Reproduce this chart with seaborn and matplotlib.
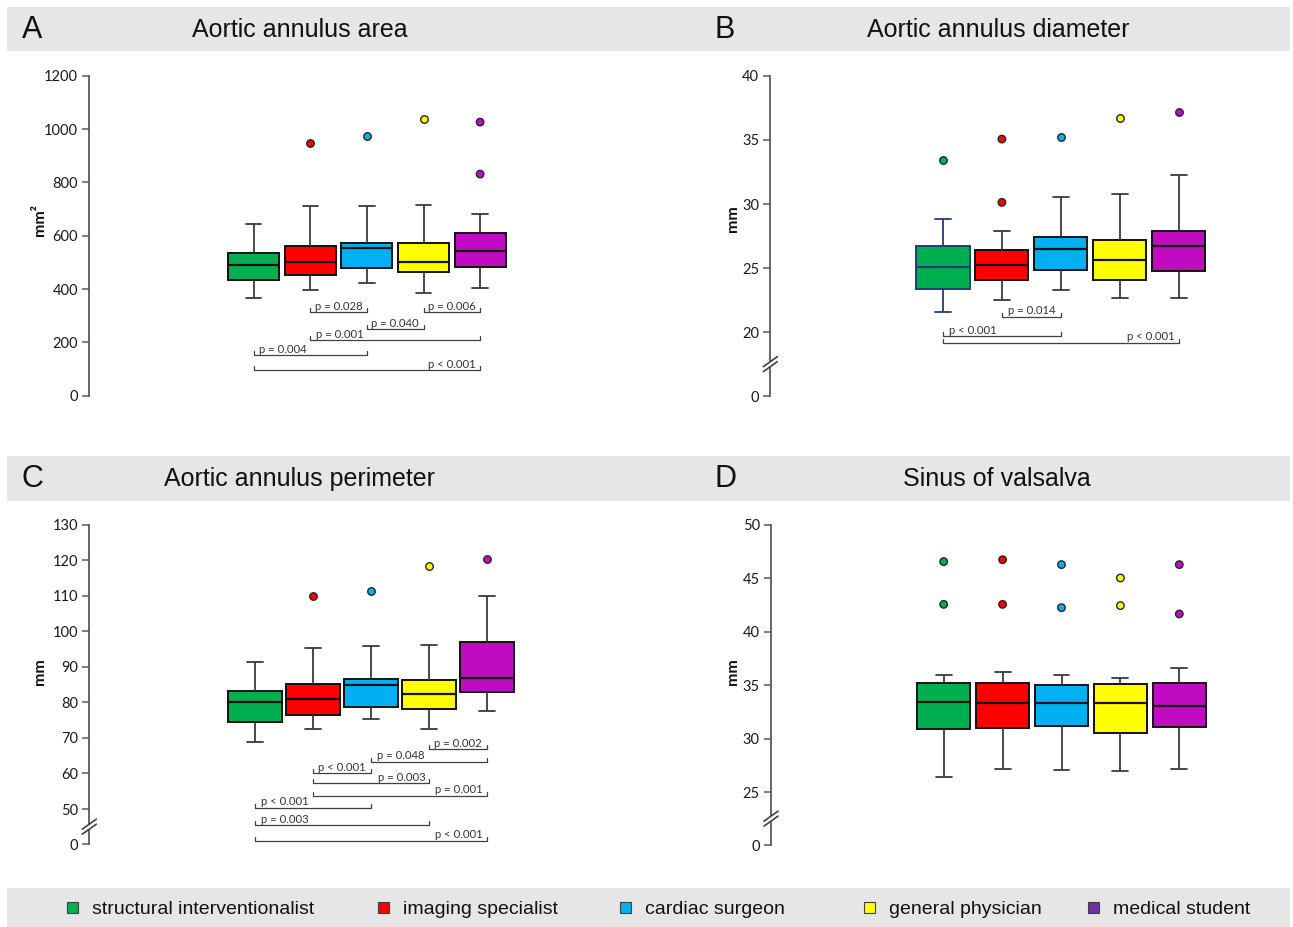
import numpy as np
import pandas as pd
import matplotlib
matplotlib.use("Agg")
import matplotlib.pyplot as plt
import matplotlib.transforms as mtransforms
from matplotlib.patches import Rectangle, Patch
from matplotlib.ticker import NullLocator
from matplotlib.font_manager import FontProperties
import seaborn as sns

# ---------------- data ----------------
GROUPS = ["structural interventionalist", "imaging specialist", "cardiac surgeon",
          "general physician", "medical student"]
BOX_COLORS = ["#00B050", "#FF0000", "#00B0F0", "#FFFF00", "#C00CC0"]
LEGEND_COLORS = ["#00B050", "#FF0000", "#00B0F0", "#FFFF00", "#7030A0"]

# five-number summaries per group: [whisker low, Q1, median, Q3, whisker high]
AREA_STATS = [[366, 432, 489, 535, 644], [396, 452, 500, 560, 712], [422, 479, 555, 574, 712],
              [386, 462, 500, 574, 715], [402, 481, 544, 610, 680]]
AREA_OUTLIERS = [[], [946], [975], [1039], [1026, 831]]

DIAM_STATS = [[21.56, 23.35, 25.12, 26.73, 28.83], [22.49, 24.05, 25.27, 26.44, 27.87],
              [23.30, 24.88, 26.47, 27.40, 30.57], [22.68, 24.05, 25.64, 27.19, 30.75],
              [22.68, 24.75, 26.73, 27.87, 32.29]]
DIAM_OUTLIERS = [[33.43], [35.06, 30.13], [35.22], [36.73], [37.14]]

PERIM_STATS = [[68.8, 74.5, 80.1, 83.3, 91.3], [72.4, 76.4, 80.9, 85.1, 95.2],
               [75.4, 78.6, 84.9, 86.5, 96.0], [72.4, 78.1, 82.5, 86.4, 96.2],
               [77.7, 82.9, 86.8, 97.1, 110.0]]
PERIM_OUTLIERS = [[], [109.9], [111.4], [118.5], [120.4]]

SINUS_STATS = [[26.43, 30.90, 33.43, 35.21, 35.92], [27.18, 30.96, 33.36, 35.21, 36.20],
               [27.03, 31.21, 33.36, 34.99, 35.99], [26.94, 30.49, 33.36, 35.14, 35.71],
               [27.18, 31.11, 33.08, 35.21, 36.64]]
SINUS_OUTLIERS = [[46.57, 42.57], [46.75, 42.57], [46.29, 42.26], [45.04, 42.45], [46.29, 41.67]]

AREA_TICKS = [0, 200, 400, 600, 800, 1000, 1200]
DIAM_TICKS = [0, 20, 25, 30, 35, 40]
PERIM_TICKS = [0, 50, 60, 70, 80, 90, 100, 110, 120, 130]
SINUS_TICKS = [0, 25, 30, 35, 40, 45, 50]

AREA_P = ["p = 0.028", "p = 0.006", "p = 0.040", "p = 0.001", "p = 0.004", "p < 0.001"]
AREA_PAIRS = [(1, 2), (3, 4), (2, 3), (1, 4), (0, 2), (0, 4)]
DIAM_P = ["p = 0.014", "p < 0.001", "p < 0.001"]
DIAM_PAIRS = [(1, 2), (0, 2), (0, 4)]
PERIM_P = ["p = 0.002", "p = 0.048", "p < 0.001", "p = 0.003", "p = 0.001",
           "p < 0.001", "p = 0.003", "p < 0.001"]
PERIM_PAIRS = [(3, 4), (2, 4), (1, 2), (1, 3), (1, 4), (0, 2), (0, 3), (0, 4)]
SINUS_P, SINUS_PAIRS = [], []

TITLES = ["Aortic annulus area", "Aortic annulus diameter",
          "Aortic annulus perimeter", "Sinus of valsalva"]
LETTERS = ["A", "B", "C", "D"]
YLABELS = ["mm²", "mm", "mm", "mm"]

# ---------------- layout (pixels) ----------------
W, H = 1293, 927
# left, top, bottom, right, first box centre, box spacing
A_BOX = (89.3, 75.7, 395.7, 620, 253.7, 56.6)
B_BOX = (770.3, 75.7, 396.0, 1290, 943.0, 58.9)
C_BOX = (89.3, 524.7, 844.3, 620, 255.3, 58.0)
D_BOX = (771.0, 525.0, 845.3, 1290, 943.7, 58.9)
# bracket levels (data units) and text alignment
AREA_LEVELS, AREA_ALIGN = [312, 312, 249, 209, 151, 96], ["c", "c", "c", "l", "l", "r"]
DIAM_LEVELS, DIAM_ALIGN = [21.22, 18.75, 16.8], ["c", "l", "r"]
PERIM_LEVELS = [66.8, 63.3, 60.0, 57.2, 53.75, 50.4, 27.3, 5.1]
PERIM_ALIGN = ["c", "l", "c", "r", "r", "l", "l", "r"]

sns.set_theme(style="ticks")
plt.rcParams["font.family"] = ["Lato", "DejaVu Sans"]

fig = plt.figure(figsize=(W / 100, H / 100), dpi=100)
fig.patch.set_facecolor("white")

GREY_BAND = "#E6E6E6"
for (y0, y1) in [(7, 51), (456, 501), (888, 927)]:
    fig.add_artist(Rectangle((7 / W, 1 - y1 / H), (1290 - 7) / W, (y1 - y0) / H,
                             transform=fig.transFigure, facecolor=GREY_BAND,
                             edgecolor="none", zorder=0))

title_font = ["Liberation Sans", "DejaVu Sans"]
for letter, title, (lx, tx, ty) in zip(LETTERS, TITLES,
                                       [(32, 300, 30), (725, 998, 30), (32, 300, 479), (725, 997, 479)]):
    fig.text(lx / W, 1 - ty / H, letter, ha="center", va="center", fontsize=22,
             family=title_font, color="#111111")
    fig.text(tx / W, 1 - ty / H, title, ha="center", va="center", fontsize=18,
             family=title_font, color="#111111")


def make_break(b, k):
    def fwd(y):
        y = np.asarray(y, dtype=float)
        return np.where(y < b, y * k, b * k + (y - b))

    def inv(v):
        v = np.asarray(v, dtype=float)
        return np.where(v < b * k, v / k, v - b * k + b)
    return fwd, inv


def draw_panel(box, stats, outliers, ticks, ymax, brk, ylabel, label_pos,
               labels, pairs, levels, aligns, width=0.9, first_edge=None):
    left, top, bottom, right, c0, sp = box
    ax = fig.add_axes([left / W, 1 - bottom / H, (right - left) / W, (bottom - top) / H])
    ax.patch.set_alpha(0)
    fwd = None
    if brk is not None:
        fwd, inv = make_break(*brk)
        ax.set_yscale("function", functions=(fwd, inv))

    rows = [(g, v) for g, s in zip(GROUPS, stats) for v in s]
    df = pd.DataFrame(rows, columns=["group", "value"])
    for i, g in enumerate(GROUPS):
        edge = "#111111"
        wcol = "#3A3A3A"
        if first_edge is not None and i == 0:
            edge = first_edge
            wcol = first_edge
        sns.boxplot(data=df[df["group"] == g], x="group", y="value", order=GROUPS,
                    color=BOX_COLORS[i], saturation=1, width=width, whis=(0, 100),
                    linecolor=edge, linewidth=1.4,
                    whiskerprops=dict(color=wcol, linewidth=1.3),
                    capprops=dict(color=wcol, linewidth=1.3),
                    medianprops=dict(color=edge, linewidth=1.6),
                    capwidths=0.27, ax=ax)

    orows = [(g, v) for g, o in zip(GROUPS, outliers) for v in o]
    odf = pd.DataFrame(orows, columns=["group", "value"])
    sns.stripplot(data=odf, x="group", y="value", order=GROUPS, hue="group",
                  hue_order=GROUPS, palette=BOX_COLORS, jitter=False, size=5.4,
                  linewidth=1.0, edgecolor="#262626", legend=False, ax=ax, zorder=4)

    ax.set_xlim((left - c0) / sp, (right - c0) / sp)
    ax.set_ylim(0, ymax)
    ax.set_xticks([])
    ax.set_xlabel("")
    ax.set_yticks(ticks, labels=[str(t) for t in ticks])
    ax.yaxis.set_minor_locator(NullLocator())
    for s in ["top", "right", "bottom"]:
        ax.spines[s].set_visible(False)
    ax.spines["left"].set_color("#595959")
    ax.spines["left"].set_linewidth(1.3)
    ax.tick_params(axis="y", length=5, width=1.1, color="#595959", labelsize=10.5,
                   labelcolor="#1A1A1A", pad=3)
    for t in ax.get_yticklabels():
        t.set_family(["Lato", "DejaVu Sans"])

    ax.set_ylabel(ylabel, fontsize=11.5, fontweight="bold", color="#111111",
                  va="center", ha="center")
    lx, ly = label_pos
    ax.yaxis.set_label_coords((lx - left) / (right - left), (bottom - ly) / (bottom - top))

    # axis break mark
    if brk is not None:
        b, k = brk
        frac = float(fwd(b * 0.5) / fwd(ymax))
        tr = fig.dpi_scale_trans + mtransforms.ScaledTranslation(0, frac, ax.transAxes)
        ax.plot([0, 0], [-0.03, 0.03], transform=tr, color="white", lw=4,
                clip_on=False, zorder=5, solid_capstyle="butt")
        for off in (-0.025, 0.025):
            ax.plot([-0.07, 0.07], [-0.05 + off, 0.05 + off], transform=tr,
                    color="#404040", lw=1.2, clip_on=False, zorder=6)

    # significance brackets
    for lab, (i, j), y, al in zip(labels, pairs, levels, aligns):
        p0 = ax.transData.transform((i, y))
        y_top = ax.transData.inverted().transform((p0[0], p0[1] + 4))[1]
        ax.plot([i, i, j, j], [y_top, y, y, y_top], color="#404040", lw=0.9,
                clip_on=False, zorder=3)
        if al == "c":
            xy, dx, ha = ((i + j) / 2, y), 0, "center"
        elif al == "l":
            xy, dx, ha = (i, y), 4, "left"
        else:
            xy, dx, ha = (j, y), -3, "right"
        ax.annotate(lab, xy=xy, xytext=(dx, 0.2), textcoords="offset points",
                    ha=ha, va="bottom", fontsize=8.2, color="#333333",
                    family=["Lato", "DejaVu Sans"])
    return ax


draw_panel(A_BOX, AREA_STATS, AREA_OUTLIERS, AREA_TICKS, 1200, None, YLABELS[0], (40, 220),
           AREA_P, AREA_PAIRS, AREA_LEVELS, AREA_ALIGN)
draw_panel(B_BOX, DIAM_STATS, DIAM_OUTLIERS, DIAM_TICKS, 40, (20, 0.248), YLABELS[1], (733, 219),
           DIAM_P, DIAM_PAIRS, DIAM_LEVELS, DIAM_ALIGN, first_edge="#1F3C7A")
draw_panel(C_BOX, PERIM_STATS, PERIM_OUTLIERS, PERIM_TICKS, 130, (50, 0.1986), YLABELS[2], (40, 672),
           PERIM_P, PERIM_PAIRS, PERIM_LEVELS, PERIM_ALIGN, width=0.93)
draw_panel(D_BOX, SINUS_STATS, SINUS_OUTLIERS, SINUS_TICKS, 50, (25, 0.1996), YLABELS[3], (733, 672),
           SINUS_P, SINUS_PAIRS, [], [])

# legend in the bottom band
leg_font = FontProperties(family=["Liberation Sans Narrow", "Liberation Sans"], size=14)
for name, col, mx in zip(GROUPS, LEGEND_COLORS, [72, 383, 625, 869, 1093]):
    h = Patch(facecolor=col, edgecolor="#404040", linewidth=0.8)
    lg = fig.legend(handles=[h], labels=[name], loc="center left",
                    bbox_to_anchor=((mx - 5) / W, 1 - 910 / H), frameon=False,
                    prop=leg_font, handlelength=0.55, handleheight=0.55,
                    handletextpad=0.75, borderpad=0, borderaxespad=0)
    for t in lg.get_texts():
        t.set_color("#111111")

fig.savefig("out.png", dpi=100)
